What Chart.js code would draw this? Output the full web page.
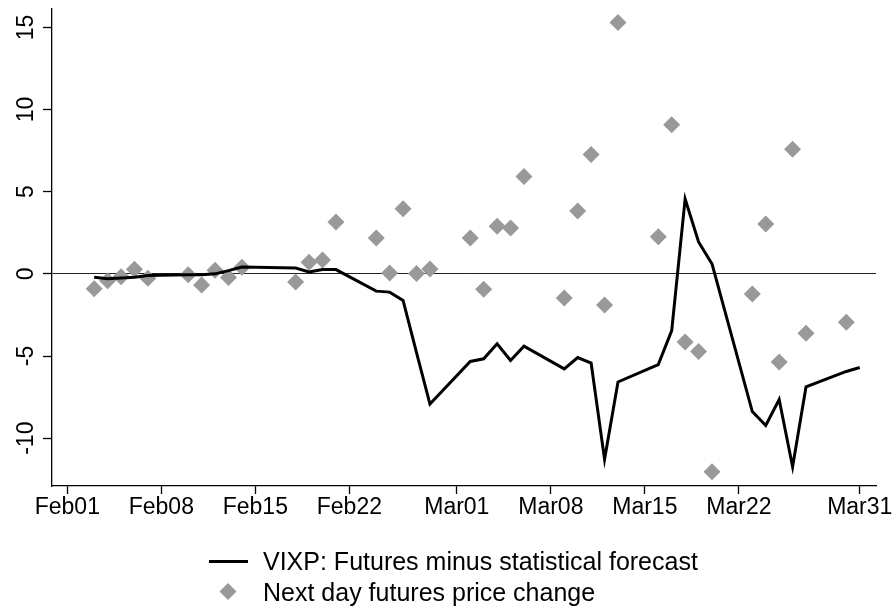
<!DOCTYPE html>
<html>
<head>
<meta charset="utf-8">
<title>VIXP</title>
<script src="https://cdn.jsdelivr.net/npm/chart.js@4"></script>
<style>
  html, body { margin: 0; padding: 0; background: #fff; }
  canvas { display: block; }
</style>
</head>
<body>
<canvas id="chart" width="894" height="607"></canvas>
<script>
// Trading days, Feb-Mar 2020.
const dates = [
  '2020-02-03', '2020-02-04', '2020-02-05', '2020-02-06', '2020-02-07',
  '2020-02-10', '2020-02-11', '2020-02-12', '2020-02-13', '2020-02-14',
  '2020-02-18', '2020-02-19', '2020-02-20', '2020-02-21',
  '2020-02-24', '2020-02-25', '2020-02-26', '2020-02-27', '2020-02-28',
  '2020-03-02', '2020-03-03', '2020-03-04', '2020-03-05', '2020-03-06',
  '2020-03-09', '2020-03-10', '2020-03-11', '2020-03-12', '2020-03-13',
  '2020-03-16', '2020-03-17', '2020-03-18', '2020-03-19', '2020-03-20',
  '2020-03-23', '2020-03-24', '2020-03-25', '2020-03-26', '2020-03-27',
  '2020-03-30', '2020-03-31'
];

// VIXP: futures minus statistical forecast.
const vixp = [
  -0.2, -0.3, -0.25, -0.2, -0.1,
  -0.05, -0.05, 0.0, 0.2, 0.42,
  0.35, 0.12, 0.26, 0.26,
  -1.05, -1.11, -1.62, -4.8, -7.92,
  -5.33, -5.17, -4.26, -5.27, -4.4,
  -5.78, -5.09, -5.43, -11.29, -6.58,
  -5.52, -3.45, 4.56, 1.94, 0.61,
  -8.38, -9.23, -7.65, -11.74, -6.87,
  -5.94, -5.7
];

// Next day futures price change (none for the last day).
const nextDayChange = [
  -0.9, -0.42, -0.18, 0.28, -0.26,
  -0.06, -0.67, 0.22, -0.22, 0.4,
  -0.49, 0.71, 0.85, 3.15,
  2.18, 0.05, 3.96, 0.02, 0.3,
  2.18, -0.93, 2.9, 2.79, 5.92,
  -1.47, 3.82, 7.27, -1.9, 15.3,
  2.26, 9.07, -4.14, -4.73, -12.04,
  -1.23, 3.03, -5.37, 7.58, -3.62,
  -2.95, null
];

const xTickDates = ['2020-02-01', '2020-02-08', '2020-02-15', '2020-02-22', '2020-03-01',
                    '2020-03-08', '2020-03-15', '2020-03-22', '2020-03-31'];
const xTickLabels = ['Feb01', 'Feb08', 'Feb15', 'Feb22', 'Mar01', 'Mar08', 'Mar15', 'Mar22', 'Mar31'];
const yTicks = [-10, -5, 0, 5, 10, 15];
const legendLabels = ['VIXP: Futures minus statistical forecast', 'Next day futures price change'];

// days since Feb 1st
const origin = Date.UTC(2020, 1, 1);
function dayOf(s) {
  const [y, m, d] = s.split('-').map(Number);
  return (Date.UTC(y, m - 1, d) - origin) / 86400000;
}

const FONT = '"Liberation Sans", Arial, sans-serif';
Chart.defaults.font.family = FONT;
Chart.defaults.color = '#000';

// y labels are drawn rotated, plus the two-row legend under the plot
const extras = {
  id: 'extras',
  afterDraw(chart) {
    const ctx = chart.ctx;
    const ys = chart.scales.y;
    ctx.save();
    ctx.fillStyle = '#000';
    ctx.font = '23px ' + FONT;
    ctx.textAlign = 'center';
    ctx.textBaseline = 'alphabetic';
    ys.ticks.forEach(t => {
      ctx.save();
      ctx.translate(ys.right - 19.5, ys.getPixelForValue(t.value));
      ctx.rotate(-Math.PI / 2);
      ctx.fillText(String(t.value), 0, 0);
      ctx.restore();
    });

    // legend
    ctx.font = '25px ' + FONT;
    ctx.textAlign = 'left';
    ctx.strokeStyle = '#000';
    ctx.lineWidth = 3;
    ctx.beginPath();
    ctx.moveTo(209, 561.5);
    ctx.lineTo(248, 561.5);
    ctx.stroke();
    ctx.fillText(legendLabels[0], 263, 570);

    ctx.fillStyle = '#999999';
    ctx.beginPath();
    ctx.moveTo(228 - 8.5, 591.5);
    ctx.lineTo(228, 591.5 - 8.5);
    ctx.lineTo(228 + 8.5, 591.5);
    ctx.lineTo(228, 591.5 + 8.5);
    ctx.closePath();
    ctx.fill();
    ctx.fillStyle = '#000';
    ctx.fillText(legendLabels[1], 263, 600.5);
    ctx.restore();
  }
};

const ctx = document.getElementById('chart').getContext('2d');
new Chart(ctx, {
  type: 'scatter',
  data: {
    datasets: [{
      type: 'line',
      label: legendLabels[0],
      data: dates.map((d, i) => ({ x: dayOf(d), y: vixp[i] })),
      borderColor: '#000',
      borderWidth: 3,
      pointRadius: 0,
      tension: 0,
      fill: false,
      order: 0
    }, {
      label: legendLabels[1],
      data: dates.map((d, i) => ({ x: dayOf(d), y: nextDayChange[i] })),
      pointStyle: 'rectRot',
      pointRadius: 8.5,
      pointHoverRadius: 8.5,
      backgroundColor: '#999999',
      borderWidth: 0,
      order: 1
    }]
  },
  options: {
    responsive: false,
    animation: false,
    layout: { padding: { top: 5, right: 18, left: 0, bottom: 0 } },
    plugins: { legend: { display: false }, tooltip: { enabled: false } },
    scales: {
      x: {
        type: 'linear',
        min: -1.14,
        max: 60.21,
        afterBuildTicks: s => { s.ticks = xTickDates.map(d => ({ value: dayOf(d) })); },
        ticks: {
          callback: (v, i) => xTickLabels[i],
          font: { size: 23 },
          color: '#000',
          padding: 0,
          maxRotation: 0,
          autoSkip: false
        },
        grid: { drawOnChartArea: false, tickLength: 8, tickColor: '#000', tickWidth: 1.3 },
        border: { color: '#000', width: 1.3 },
        afterFit: s => { s.height = 121; }
      },
      y: {
        min: -12.91,
        max: 16.15,
        afterBuildTicks: s => { s.ticks = yTicks.map(v => ({ value: v })); },
        ticks: { display: false },
        grid: {
          color: c => (c.tick && c.tick.value === 0) ? '#222' : 'rgba(0,0,0,0)',
          lineWidth: 1,
          tickLength: 9,
          tickColor: '#000',
          tickWidth: 1.3
        },
        border: { color: '#000', width: 1.3 },
        afterFit: s => { s.width = 52; }
      }
    }
  },
  plugins: [extras]
});
</script>
</body>
</html>
